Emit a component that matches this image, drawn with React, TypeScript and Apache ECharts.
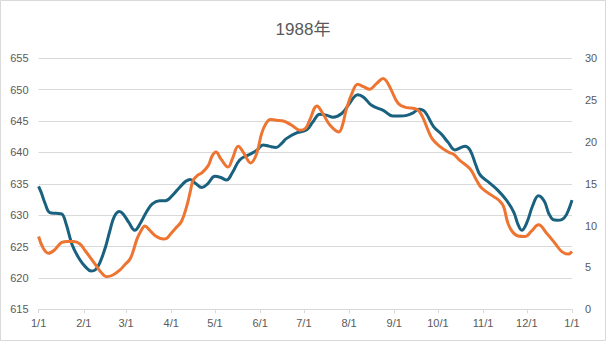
import React, { useEffect, useRef } from "react";
import * as echarts from "echarts";

const monthStarts = [0, 31, 60, 91, 121, 152, 182, 213, 244, 274, 305, 335, 366];
const monthLabels = ["1/1", "2/1", "3/1", "4/1", "5/1", "6/1", "7/1", "8/1", "9/1", "10/1", "11/1", "12/1", "1/1"];

const blueDays = [0, 2, 4.4, 7.8, 12, 15.8, 19, 23, 28, 32, 36, 39, 42, 46, 49, 52, 55.4, 58, 62, 66, 70, 74, 78, 83, 87, 92, 97, 101, 104, 108, 112, 116, 121, 125, 129, 133, 138, 145, 150, 154, 158, 163, 167, 170, 177, 184, 188, 193, 198, 202, 208, 213, 219, 223, 228.5, 236.5, 243, 248, 252.6, 257, 261, 265, 271, 276, 281, 285.7, 290, 292.6, 296, 300, 303, 308.6, 315, 321, 326, 329, 331.5, 335, 339, 343, 347, 350, 353, 356, 359, 362, 366];
const blueValues = [634.6, 633.5, 631.9, 630.4, 630.3, 630.2, 628.5, 625.3, 623.0, 621.8, 621.1, 621.3, 622.4, 625.0, 627.6, 629.8, 630.6, 630.2, 628.8, 627.6, 628.8, 630.5, 631.8, 632.3, 632.3, 633.2, 634.5, 635.4, 635.7, 635.0, 634.4, 635.0, 636.2, 636.0, 635.6, 636.8, 638.8, 639.7, 640.4, 641.2, 641.0, 640.8, 641.5, 642.2, 643.1, 643.6, 644.8, 646.1, 645.9, 645.6, 646.2, 647.7, 649.2, 648.8, 647.5, 646.7, 645.8, 645.8, 645.9, 646.3, 646.9, 646.5, 644.1, 643.0, 641.6, 640.4, 640.8, 641.0, 640.4, 638.0, 636.4, 635.3, 634.0, 632.4, 630.5, 628.5, 627.6, 628.8, 631.5, 633.1, 632.2, 630.3, 629.3, 629.2, 629.3, 630.0, 632.4];

const orangeDays = [0, 3.2, 6.7, 11, 16, 20, 24, 28.4, 32, 35, 40, 43, 46.7, 51, 55.9, 59, 62.7, 65, 67.3, 70, 73, 76, 80, 85.6, 88, 91, 94, 98, 101.6, 104, 106, 109, 112, 116.5, 119, 121.7, 125, 130, 133, 137, 141, 145.5, 149.6, 153, 156, 159, 163, 168, 173.7, 179.4, 183, 186, 191, 195, 200, 206, 208.5, 211, 215, 219, 223, 227, 232, 236.5, 239, 242, 246.8, 252.6, 258, 261, 264, 267, 270, 275, 281, 285, 289, 296, 300.6, 304, 312, 316, 319, 322, 325, 329, 334, 338, 343, 348.6, 354.3, 359, 363.5, 366];
const orangeValues = [8.7, 7.3, 6.7, 7.1, 8.0, 8.1, 8.1, 7.8, 7.0, 6.3, 5.1, 4.4, 3.9, 4.1, 4.7, 5.3, 6.0, 7.0, 8.3, 9.3, 9.95, 9.5, 8.8, 8.4, 8.5, 9.1, 9.7, 10.5, 12.3, 14.0, 15.4, 16.0, 16.3, 17.2, 18.3, 18.8, 18.0, 17.0, 18.0, 19.5, 18.6, 17.5, 18.6, 21.0, 22.2, 22.7, 22.6, 22.5, 22.0, 21.4, 21.6, 22.6, 24.3, 23.4, 22.0, 21.2, 22.0, 23.8, 25.8, 26.9, 26.6, 26.3, 27.0, 27.6, 27.2, 26.2, 24.6, 24.1, 24.0, 23.7, 22.8, 21.5, 20.4, 19.5, 18.8, 18.5, 17.8, 16.8, 15.4, 14.5, 13.5, 13.0, 12.3, 10.3, 9.3, 8.76, 8.7, 9.3, 10.1, 9.1, 7.9, 6.9, 6.6, 6.9];

const titleText = "1988年";
const FONT = "'Liberation Sans', 'Noto Sans CJK SC', sans-serif";
const TEXT_COLOR = "#595959";

export default function App() {
  const ref = useRef<HTMLDivElement>(null);
  useEffect(() => {
    if (!ref.current) return;
    const chart = echarts.init(ref.current, undefined, { renderer: "svg" });
    const blueData = blueDays.map((d, i) => [d, blueValues[i]]);
    const orangeData = orangeDays.map((d, i) => [d, orangeValues[i]]);
    chart.setOption({
      animation: false,
      backgroundColor: "#ffffff",
      title: {
        text: titleText,
        left: "center",
        top: 16,
        textStyle: { fontFamily: FONT, fontSize: 17, fontWeight: "normal", color: TEXT_COLOR },
      },
      graphic: [
        {
          type: "rect",
          shape: { x: 0.5, y: 0.5, width: 605, height: 340 },
          style: { fill: "none", stroke: "#d9d9d9", lineWidth: 1 },
          silent: true,
        },
      ],
      grid: { left: 38.6, right: 34, top: 58.3, bottom: 31.7 },
      xAxis: {
        type: "value",
        min: 0,
        max: 366,
        axisLine: { show: true, lineStyle: { color: "#d9d9d9" } },
        axisTick: { show: true, customValues: monthStarts, length: 4, lineStyle: { color: "#d9d9d9" } },
        axisLabel: {
          customValues: monthStarts,
          formatter: (v: number) => {
            const idx = monthStarts.indexOf(Math.round(v));
            return idx >= 0 ? monthLabels[idx] : "";
          },
          color: TEXT_COLOR,
          fontFamily: FONT,
          fontSize: 11,
          margin: 8,
          showMinLabel: true,
          showMaxLabel: true,
        },
        splitLine: { show: false },
      },
      yAxis: [
        {
          type: "value",
          min: 615,
          max: 655,
          interval: 5,
          axisLine: { show: false },
          axisTick: { show: false },
          axisLabel: { color: TEXT_COLOR, fontFamily: FONT, fontSize: 11, margin: 10 },
          splitLine: { show: true, lineStyle: { color: "#d9d9d9", width: 1 } },
        },
        {
          type: "value",
          min: 0,
          max: 30,
          interval: 5,
          axisLine: { show: false },
          axisTick: { show: false },
          axisLabel: { color: TEXT_COLOR, fontFamily: FONT, fontSize: 11, margin: 13 },
          splitLine: { show: false },
        },
      ],
      series: [
        {
          type: "line",
          yAxisIndex: 0,
          data: blueData,
          smooth: 0.4,
          showSymbol: false,
          symbol: "none",
          lineStyle: { color: "#19617f", width: 3 },
          itemStyle: { color: "#19617f" },
        },
        {
          type: "line",
          yAxisIndex: 1,
          data: orangeData,
          smooth: 0.4,
          showSymbol: false,
          symbol: "none",
          lineStyle: { color: "#ee7431", width: 3 },
          itemStyle: { color: "#ee7431" },
        },
      ],
    });
    return () => chart.dispose();
  }, []);
  return (
    <div style={{ position: "absolute", left: 0, top: 0, width: 606, height: 341 }}>
      <div ref={ref} style={{ width: 606, height: 341 }} />
    </div>
  );
}
